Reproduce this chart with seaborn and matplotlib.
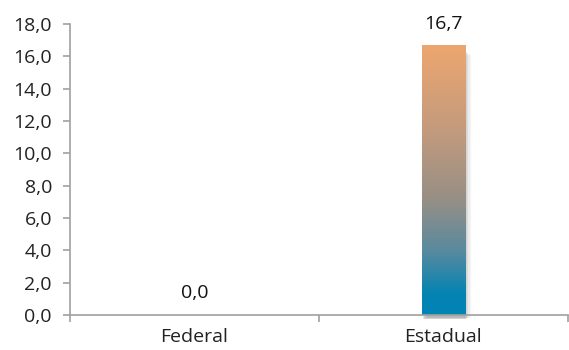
import numpy as np
import pandas as pd
import matplotlib
matplotlib.use("Agg")
import matplotlib.pyplot as plt
import seaborn as sns
from matplotlib.colors import LinearSegmentedColormap
from matplotlib.patches import Rectangle

# dados
categorias = ["Federal", "Estadual"]
valores = [0.0, 16.7]
y_ticks = [0, 2, 4, 6, 8, 10, 12, 14, 16, 18]

sns.set_theme(style="white")
plt.rcParams['font.family'] = ['Open Sans', 'DejaVu Sans']

df = pd.DataFrame({"esfera": categorias, "valor": valores})

fig, ax = plt.subplots(figsize=(5.69, 3.5), dpi=100)
fig.subplots_adjust(left=0.123, right=0.998, top=0.931, bottom=0.1)

sns.barplot(data=df, x="esfera", y="valor", ax=ax, width=0.175,
            color="#0083b5", saturation=1)

# gradiente azul -> laranja dentro das barras
cmap = LinearSegmentedColormap.from_list(
    "grad", [(0.0, "#0083b6"), (0.08, "#0584b2"), (0.24, "#5a8a9e"),
             (0.43, "#978f85"), (0.67, "#c19a7e"), (1.0, "#eda66f")])
grad = np.linspace(0, 1, 256).reshape(-1, 1)
for p, v in zip(ax.patches, valores):
    if v <= 0:
        continue
    x0, w = p.get_x(), p.get_width()
    # sombra suave
    for i, a in enumerate([0.10, 0.08, 0.06, 0.04, 0.025, 0.012]):
        off = 0.004 + i * 0.0045
        sh = Rectangle((x0 + off, -0.25 + i * 0.02), w, v - 0.1 - i * 0.08,
                       facecolor="black", alpha=a, edgecolor="none", zorder=1,
                       clip_on=False)
        ax.add_patch(sh)
    p.set_zorder(2)
    im = ax.imshow(grad, extent=[x0, x0 + w, 0, v], origin="lower",
                   cmap=cmap, aspect="auto", zorder=3)
    im.set_clip_path(p)

ax.set_xlim(-0.5, 1.5)
ax.set_ylim(0, 18)

# rótulos de valor
for i, v in enumerate(valores):
    ax.annotate(f"{v:.1f}".replace(".", ","), (i, v), xytext=(0, 9),
                textcoords="offset points", ha="center", va="bottom",
                fontsize=14, color="#111111")

ax.set_yticks(y_ticks)
ax.set_yticklabels([f"{t:.1f}".replace(".", ",") for t in y_ticks])
ax.set_xticks([0, 1])
ax.set_xticklabels(categorias)
ax.set_xticks([-0.5, 0.5, 1.5], minor=True)
ax.tick_params(axis="x", which="major", length=0, labelsize=14, pad=9,
               labelcolor="#222222")
ax.tick_params(axis="x", which="minor", length=5, width=1.2, color="#a0a0a0",
               direction="out", bottom=True)
ax.tick_params(axis="y", length=5, width=1.2, color="#a0a0a0", direction="out",
               left=True, labelsize=14, labelcolor="#222222", pad=8)

ax.set_xlabel("")
ax.set_ylabel("")
for s in ["top", "right"]:
    ax.spines[s].set_visible(False)
for s in ["left", "bottom"]:
    ax.spines[s].set_color("#a0a0a0")
    ax.spines[s].set_linewidth(1.2)
    ax.spines[s].set_zorder(4)

fig.savefig("out.png", dpi=100)
